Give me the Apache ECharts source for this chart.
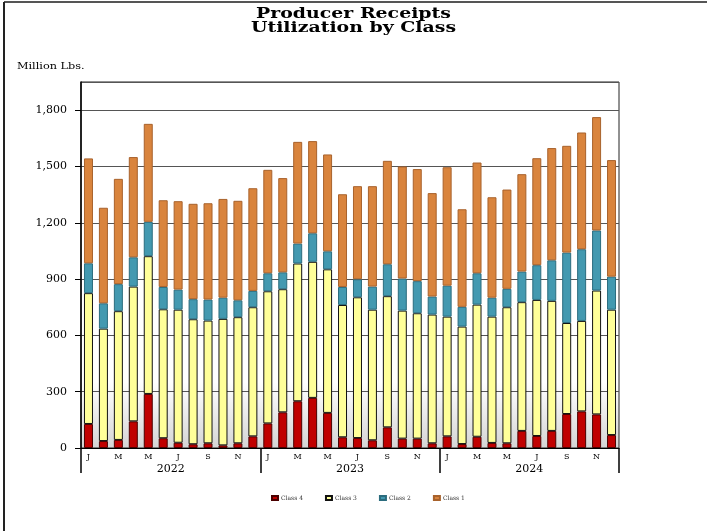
<!DOCTYPE html>
<html>
<head>
<meta charset="utf-8">
<script src="https://cdn.jsdelivr.net/npm/echarts@6/dist/echarts.min.js"></script>
<style>
  html, body { margin: 0; padding: 0; background: #fff; }
  #chart { width: 707px; height: 531px; }
</style>
</head>
<body>
<div id="chart"></div>
<script>
// months Jan 2022 .. Dec 2024
const monthLetters = ['J','F','M','A','M','J','J','A','S','O','N','D']
const months = [].concat(monthLetters, monthLetters, monthLetters)
const years = ['2022', '2023', '2024']

// million lbs
const class4 = [128, 37, 43, 142, 288, 52, 28, 20, 25, 14, 25, 62,
  131, 190, 249, 267, 187, 57, 53, 41, 110, 50, 50, 25,
  62, 21, 60, 27, 25, 91, 64, 91, 181, 195, 179, 69]
const class3 = [697, 599, 686, 718, 734, 687, 709, 666, 654, 674, 672, 688,
  704, 656, 734, 725, 765, 705, 750, 696, 699, 682, 668, 686,
  638, 626, 704, 673, 725, 686, 725, 693, 485, 482, 660, 668]
const class2 = [159, 135, 144, 156, 183, 119, 107, 107, 112, 113, 90, 87,
  96, 90, 106, 152, 96, 96, 96, 123, 170, 171, 171, 96,
  165, 105, 167, 101, 98, 163, 185, 216, 375, 382, 320, 176]
const class1 = [559, 509, 561, 534, 522, 462, 471, 508, 513, 526, 530, 547,
  551, 502, 542, 491, 516, 494, 496, 535, 551, 597, 597, 551,
  631, 520, 590, 535, 529, 519, 570, 598, 569, 622, 604, 621]

const serif = '"DejaVu Serif", "Liberation Serif", serif'

const barSeries = (name, data, color, border) => ({
  name: name,
  type: 'bar',
  stack: 'total',
  data: data,
  barWidth: 9,
  itemStyle: { color: color, borderColor: border, borderWidth: 1 },
  emphasis: { disabled: true },
})

var myChart = echarts.init(document.getElementById('chart'))
var option = {
  animation: false,
  backgroundColor: '#fff',
  legend: {
    bottom: 25,
    left: 266,
    itemWidth: 6,
    itemHeight: 4,
    itemGap: 22,
    icon: 'rect',
    textStyle: { fontFamily: serif, fontSize: 6, color: '#333', padding: [0, 0, 0, -2] },
    data: ['Class 4', 'Class 3', 'Class 2', 'Class 1'],
  },
  graphic: [
    // title, stretched a little to match the wide lettering
    {
      type: 'text', x: 353.5, y: 7, scaleX: 1.35,
      style: {
        text: 'Producer Receipts\nUtilization by Class',
        font: 'bold 14px ' + serif, lineHeight: 14, fill: '#000', align: 'center',
      },
    },
    { type: 'text', x: 17, y: 62, scaleX: 1.25, style: { text: 'Million Lbs.', font: '9px ' + serif, fill: '#000' } },
    { type: 'line', shape: { x1: 4, y1: 2, x2: 707, y2: 2 }, style: { stroke: '#555', lineWidth: 2 } },
    { type: 'line', shape: { x1: 4, y1: 2, x2: 4, y2: 531 }, style: { stroke: '#222', lineWidth: 2 } },
  ],
  grid: {
    left: 81,
    right: 88,
    top: 82,
    bottom: 83,
    show: true,
    borderColor: '#222',
    borderWidth: 1,
    backgroundColor: new echarts.graphic.LinearGradient(0, 0, 0, 1, [
      { offset: 0, color: '#ffffff' },
      { offset: 0.82, color: '#ffffff' },
      { offset: 1, color: '#d4d4d4' },
    ]),
  },
  xAxis: [
    {
      type: 'category',
      data: months,
      axisLine: { lineStyle: { color: '#000', width: 1 } },
      axisTick: { show: false },
      axisLabel: { interval: 1, margin: 5, fontFamily: serif, fontSize: 8, color: '#000' },
    },
    {
      type: 'category',
      data: years,
      position: 'bottom',
      axisLine: { show: false },
      axisTick: { show: true, length: 25, lineStyle: { color: '#000', width: 1.5 } },
      axisLabel: { margin: 16, fontFamily: serif, fontSize: 11, color: '#000' },
    },
  ],
  yAxis: {
    type: 'value',
    min: 0,
    max: 1950,
    interval: 300,
    axisLine: { show: true, lineStyle: { color: '#000', width: 1.5 } },
    axisTick: { show: true, length: 6, lineStyle: { color: '#000' } },
    axisLabel: {
      margin: 14,
      showMaxLabel: false,
      fontFamily: serif,
      fontSize: 11,
      color: '#000',
      formatter: function (value) {
        return value.toLocaleString('en-US')
      },
    },
    splitLine: { lineStyle: { color: '#555', width: 1 } },
  },
  series: [
    barSeries('Class 4', class4, '#c00000', '#4a0000'),
    barSeries('Class 3', class3, '#ffff99', '#111111'),
    barSeries('Class 2', class2, '#4399b0', '#2b6c7e'),
    barSeries('Class 1', class1, '#d9843d', '#a8622c'),
  ],
}
myChart.setOption(option)
</script>
</body>
</html>
